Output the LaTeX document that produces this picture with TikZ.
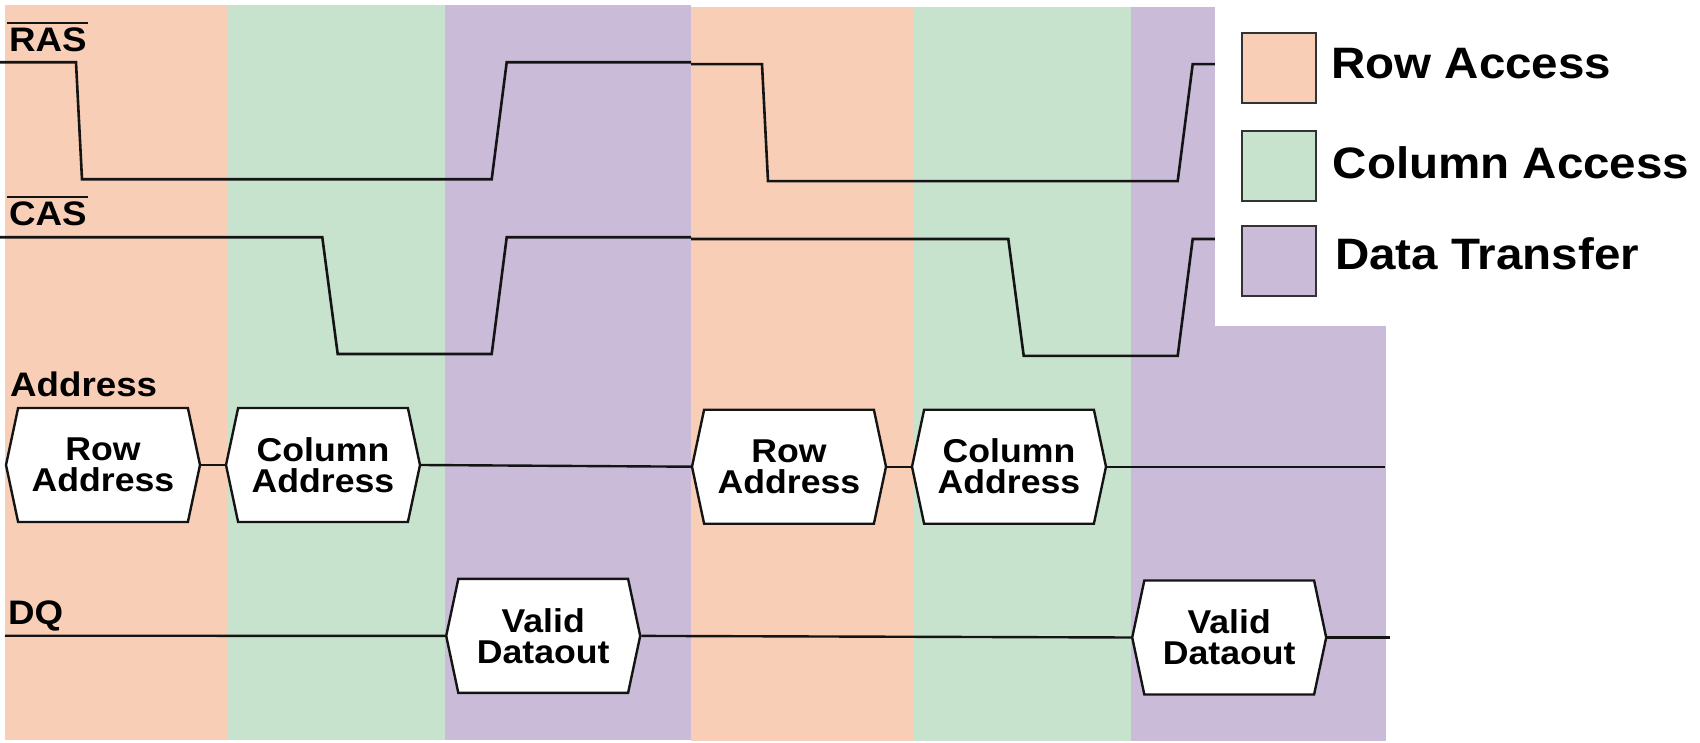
\documentclass[tikz,border=0pt]{standalone}
\usepackage{fontspec}
\newfontfamily\wavefont[FakeStretch=1.08]{Liberation Sans Bold}
\usetikzlibrary{shapes.symbols}
\definecolor{rowc}{RGB}{249,206,182}
\definecolor{colc}{RGB}{200,227,205}
\definecolor{datc}{RGB}{202,187,216}
\definecolor{ink}{RGB}{20,20,20}

\begin{document}
\begin{tikzpicture}[x=1pt,y=-1pt,
  wave/.style={line width=2.6pt, line join=miter, draw=ink},
  bus/.style={line width=2.4pt, draw=ink},
  hexnode/.style={signal, signal to=west and east, signal pointer angle=156,
    draw=ink, line width=2.4pt, fill=white, minimum width=194pt, minimum height=114pt,
    inner sep=0pt, align=center, font=\wavefont\fontsize{33}{31}\selectfont},
  siglabel/.style={anchor=base west, inner sep=0pt, font=\wavefont\fontsize{34}{36}\selectfont},
  overbar/.style={line width=2pt, draw=ink},
  legbox/.style={draw=black!80, line width=1.6pt, minimum width=74pt, minimum height=70pt, inner sep=0pt},
  legtext/.style={anchor=base west, inner sep=0pt, font=\wavefont\fontsize{44}{48}\selectfont},
]
\useasboundingbox (0,0) rectangle (1700,743);
\fill[white] (0,0) rectangle (1700,743);

% phase bands, first access cycle
\fill[rowc] (5,5) rectangle (227,740);
\fill[colc] (227,5) rectangle (445,740);
\fill[datc] (445,5) rectangle (691,740);
% phase bands, second access cycle
\fill[rowc] (691,7) rectangle (913,741);
\fill[colc] (913,7) rectangle (1131,741);
\fill[datc] (1131,7) rectangle (1386,741);

% signal names
\node[siglabel] (rasL) at (9,51.7) {RAS};
\draw[overbar] ([xshift=-2pt,yshift=4.3pt]rasL.north west) -- ([xshift=1.5pt,yshift=4.3pt]rasL.north east);
\node[siglabel] (casL) at (9,225.7) {CAS};
\draw[overbar] ([xshift=-2pt,yshift=4.3pt]casL.north west) -- ([xshift=1.5pt,yshift=4.3pt]casL.north east);
\node[siglabel] (addrL) at (10,396) {Address};
\node[siglabel] (dqL) at (8,624) {DQ};

% RAS strobe
\draw[wave] (0,62.3) -- (76,62.3) -- (82,179.3) -- (491.7,179.3) -- (506.7,62.3) -- (691,62.3);
\draw[wave] (691,64.1) -- (762,64.1) -- (768,181.1) -- (1177.7,181.1) -- (1192.7,64.1) -- (1215,64.1);
% CAS strobe
\draw[wave] (0,237.3) -- (322.3,237.3) -- (337.7,354) -- (491.7,354) -- (506.7,237.3) -- (691,237.3);
\draw[wave] (691,239) -- (1008.3,239) -- (1023.7,355.8) -- (1177.7,355.8) -- (1192.7,239) -- (1215,239);

% address bus
\node[hexnode] (ra1) at (103,465) {Row\\Address};
\node[hexnode] (ca1) at (323,465) {Column\\Address};
\node[hexnode] (ra2) at (789,466.7) {Row\\Address};
\node[hexnode] (ca2) at (1009,466.7) {Column\\Address};
\coordinate (addrEnd) at (1385,466.7);
\draw[bus] (ra1.east) -- (ca1.west);
\draw[bus] (ca1.east) -- (ra2.west);
\draw[bus] (ra2.east) -- (ca2.west);
\draw[bus] (ca2.east) -- (addrEnd);

% data bus
\node[hexnode] (vd1) at (543.2,635.9) {Valid\\Dataout};
\node[hexnode] (vd2) at (1229.2,637.5) {Valid\\Dataout};
\coordinate (dqStart) at (5,635.7);
\coordinate (dqEnd) at (1390,637.5);
\draw[bus] (dqStart) -- (vd1.west);
\draw[bus] (vd1.east) -- (vd2.west);
\draw[bus] (vd2.east) -- (dqEnd);

% legend
\fill[white] (1215,0) rectangle (1700,326);
\node[legbox, fill=rowc] (kRow) at (1278.7,68) {};
\node[legbox, fill=colc] (kCol) at (1278.7,166.2) {};
\node[legbox, fill=datc] (kDat) at (1278.7,261) {};
\node[legtext] (tRow) at (1331,79) {Row Access};
\node[legtext] (tCol) at (1332.5,178.3) {Column Access};
\node[legtext] (tDat) at (1335,270) {Data Transfer};
\end{tikzpicture}
\end{document}
